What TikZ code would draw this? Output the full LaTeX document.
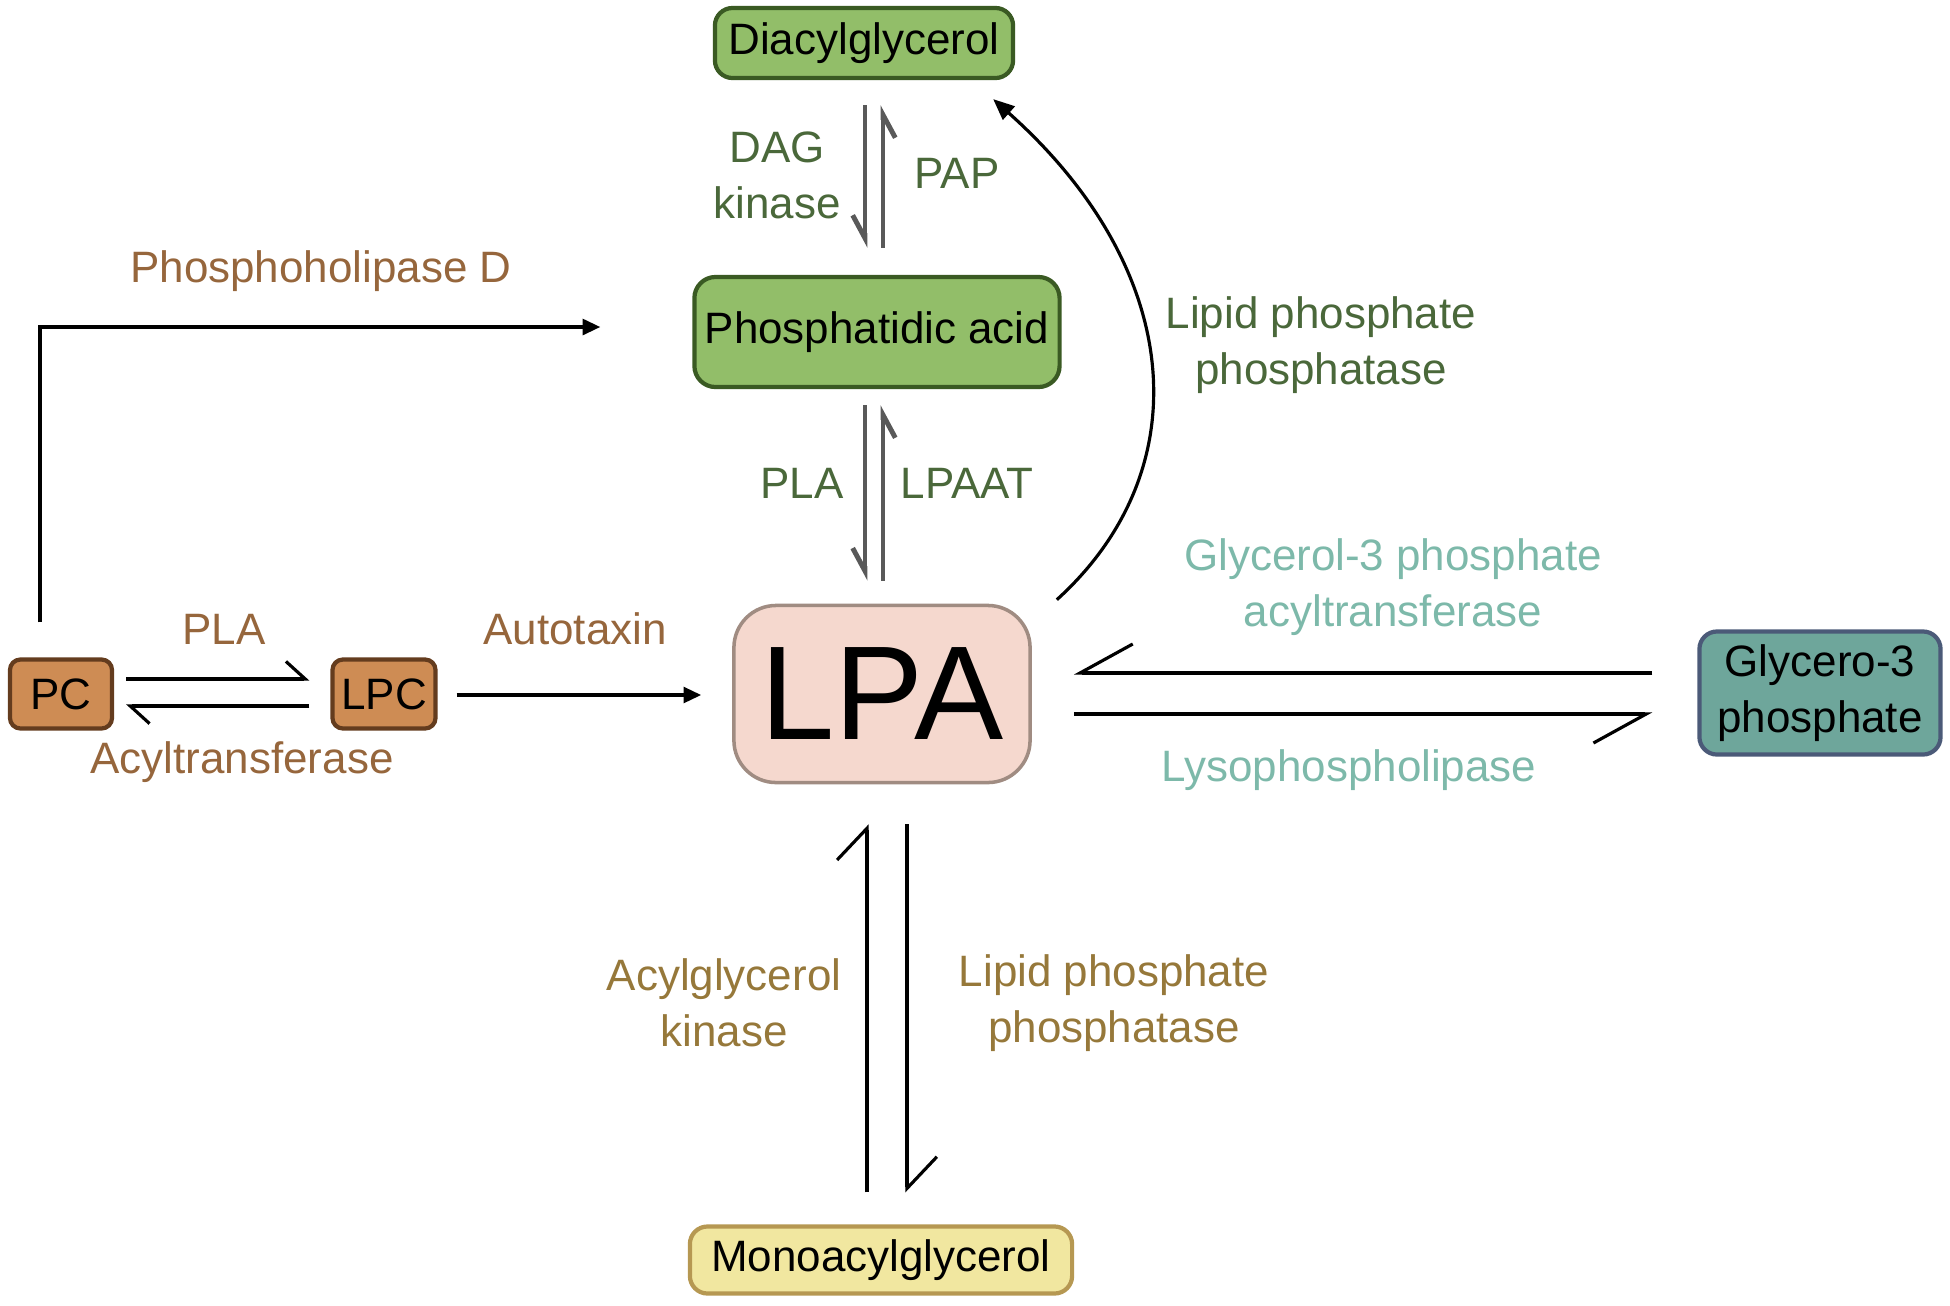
\documentclass[tikz,border=0pt]{standalone}
\usepackage{fontspec}
\setmainfont{Liberation Sans}
\usetikzlibrary{arrows.meta,calc}
\definecolor{grtxt}{RGB}{74,104,58}
\definecolor{grfill}{RGB}{146,190,105}
\definecolor{grline}{RGB}{58,90,35}
\definecolor{brtxt}{RGB}{150,102,60}
\definecolor{brfill}{RGB}{206,140,84}
\definecolor{brline}{RGB}{100,60,30}
\definecolor{tltxt}{RGB}{125,185,170}
\definecolor{tlfill}{RGB}{110,166,155}
\definecolor{tlline}{RGB}{75,90,120}
\definecolor{gdtxt}{RGB}{150,120,58}
\definecolor{ylfill}{RGB}{241,231,160}
\definecolor{ylline}{RGB}{182,152,82}
\definecolor{lpafill}{RGB}{245,216,206}
\definecolor{lpaline}{RGB}{160,140,130}
\tikzstyle{box}=[draw,line width=1.2pt,rounded corners=5pt,inner sep=0pt,align=center,font=\fontsize{12.5}{16}\selectfont]
\tikzstyle{lbl}=[inner sep=0pt,align=center,font=\fontsize{12.5}{16}\selectfont]
\tikzstyle{rxn}=[line width=0.9pt]
\tikzstyle{grayrxn}=[line width=1.4pt,black!65]
\tikzset{
  harp/.style 2 args={-{Straight Barb[harpoon,length=#1,width=#2]}},
  harpsw/.style 2 args={-{Straight Barb[harpoon,swap,length=#1,width=#2]}},
}

\begin{document}
\begin{tikzpicture}[x=0.01cm, y=-0.01cm]
  \useasboundingbox (0,0) rectangle (1950,1305);

  % species
  \node[box, fill=grfill, draw=grline, minimum width=2.98cm, minimum height=0.70cm] (dag) at (864,43) {Diacylglycerol};
  \node[box, fill=grfill, draw=grline, minimum width=3.65cm, minimum height=1.10cm, rounded corners=6pt] (pa) at (877,332) {Phosphatidic acid};
  \node[box, fill=lpafill, draw=lpaline, line width=1pt, minimum width=2.96cm, minimum height=1.77cm, rounded corners=12pt, font=\fontsize{38}{40}\selectfont] (lpa) at (882,694) {LPA};
  \node[box, fill=brfill, draw=brline, minimum width=1.02cm, minimum height=0.69cm, rounded corners=3pt] (pc) at (61,694) {PC};
  \node[box, fill=brfill, draw=brline, minimum width=1.03cm, minimum height=0.69cm, rounded corners=3pt] (lpc) at (384,694) {LPC};
  \node[box, fill=tlfill, draw=tlline, minimum width=2.41cm, minimum height=1.23cm] (gp) at (1820,693) {Glycero-3\\phosphate};
  \node[box, fill=ylfill, draw=ylline, minimum width=3.82cm, minimum height=0.67cm] (mag) at (881,1260) {Monoacylglycerol};

  % enzyme labels
  \node[lbl, grtxt] (dagk) at (777,175) {DAG\\kinase};
  \node[lbl, grtxt] (pap) at (957,173) {PAP};
  \node[lbl, grtxt] (plaup) at (802,483) {PLA};
  \node[lbl, grtxt] (lpaat) at (967,483) {LPAAT};
  \node[lbl, grtxt] (lppup) at (1321,345) {Lipid phosphate\\phosphatase};
  \node[lbl, brtxt] (pld) at (321,271) {Phosphoholipase D};
  \node[lbl, brtxt] (plalft) at (224,629) {PLA};
  \node[lbl, brtxt] (acyl) at (242,762) {Acyltransferase};
  \node[lbl, brtxt] (atx) at (575,629) {Autotaxin};
  \node[lbl, tltxt] (gpat) at (1393,587) {Glycerol-3 phosphate\\acyltransferase};
  \node[lbl, tltxt] (lysop) at (1349,770) {Lysophospholipase};
  \node[lbl, gdtxt] (agk) at (724,1003) {Acylglycerol\\kinase};
  \node[lbl, gdtxt] (lppdn) at (1114,1003) {Lipid phosphate\\phosphatase};

  % DAG <-> PA
  \draw[grayrxn, harpsw={6.5pt}{7pt}] ($(dag.south)+(1,25)$) -- ($(pa.north)+(-12,-27)$);
  \draw[grayrxn, harpsw={6.5pt}{7pt}] ($(pa.north)+(6,-27)$) -- ($(dag.south)+(19,25)$);

  % PA <-> LPA
  \draw[grayrxn, harpsw={6.5pt}{7pt}] ($(pa.south)+(-12,16)$) -- ($(lpa.north)+(-17,-23)$);
  \draw[grayrxn, harpsw={6.5pt}{7pt}] ($(lpa.north)+(1,-23)$) -- ($(pa.south)+(6,16)$);

  % LPA -> DAG
  \draw[rxn, -{Triangle[length=6pt,width=5pt]}] ($(lpa.north east)+(25,-4)$) .. controls (1200,470) and (1185,270) .. ($(dag.south east)+(-22,19)$);

  % PC <-> LPC -> LPA
  \draw[rxn, harp={5.5pt}{10pt}] ($(pc.east)+(12,-15)$) -- ($(lpc.west)+(-21,-15)$);
  \draw[rxn, harp={5.5pt}{10pt}] ($(lpc.west)+(-21,12)$) -- ($(pc.east)+(12,12)$);
  \draw[rxn, -{Triangle[length=5pt,width=4.5pt]}] ($(lpc.east)+(19,1)$) -- ($(lpa.west)+(-31,1)$);
  \draw[rxn, -{Triangle[length=5pt,width=4.5pt]}] ($(pc.north)+(-21,-35)$) |- ($(pa.west)+(-92,-5)$);

  % LPA <-> glycerol-3 phosphate
  \draw[rxn, harpsw={15pt}{16.5pt}] ($(gp.west)+(-45,-20)$) -- ($(lpa.east)+(42,-21)$);
  \draw[rxn, harpsw={15pt}{16.5pt}] ($(lpa.east)+(42,20)$) -- ($(gp.west)+(-45,21)$);

  % LPA <-> MAG
  \draw[rxn, harp={9pt}{17pt}] ($(mag.north)+(-14,-32)$) -- ($(lpa.south)+(-15,40)$);
  \draw[rxn, harp={9pt}{17pt}] ($(lpa.south)+(25,40)$) -- ($(mag.north)+(26,-32)$);
\end{tikzpicture}
\end{document}
